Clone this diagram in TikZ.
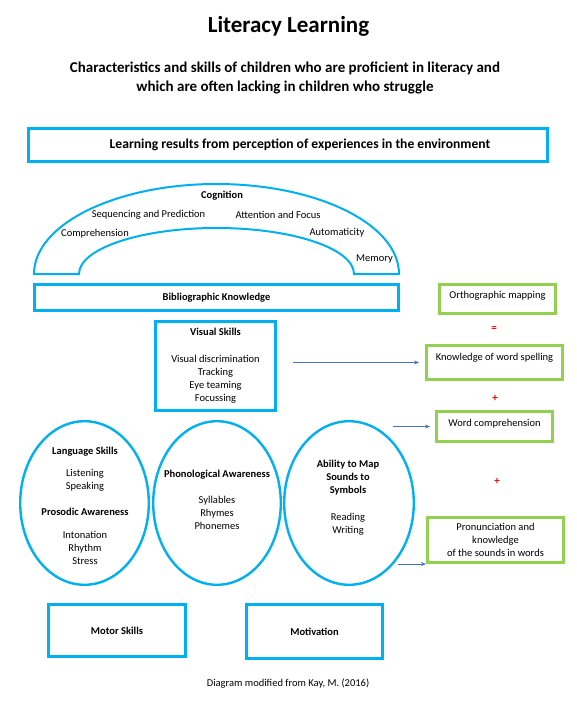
\documentclass[tikz,border=0pt]{standalone}
\usepackage{fontspec}
\setmainfont{Carlito}
\usepackage{xcolor}
\usetikzlibrary{shapes.geometric,arrows.meta,positioning,calc}

\definecolor{cyanblue}{RGB}{0,176,240}
\definecolor{leafgreen}{RGB}{146,208,80}
\definecolor{arrowblue}{RGB}{68,114,196}
\newcommand{\skillfont}{\fontsize{10.5}{13}\selectfont}

\begin{document}
\begin{tikzpicture}[
  x=1pt, y=-1pt,
  node distance=10pt,
  bluebox/.style={rectangle, draw=cyanblue, line width=2.6pt, align=center,
    font=\skillfont, inner sep=2pt},
  greenbox/.style={rectangle, draw=leafgreen, line width=2.6pt, align=center,
    font=\skillfont, inner sep=2pt},
  skillellipse/.style={shape=ellipse, draw=cyanblue, line width=2.4pt,
    minimum width=128.6pt, minimum height=163.6pt, inner sep=0pt},
  ellipsetext/.style={align=center, font=\skillfont, inner sep=0pt},
  archtext/.style={font=\skillfont, inner sep=0pt},
  arrow/.style={-{Stealth[length=5pt, width=4pt]}, draw=arrowblue, line width=0.7pt},
  opsign/.style={font=\fontsize{11}{13}\selectfont\bfseries, text=red, inner sep=0pt},
]
  \useasboundingbox (0,0) rectangle (576,712);

  % Title
  \node[font=\fontsize{23}{27}\selectfont\bfseries] (title) at (288.5,26) {Literacy Learning};
  \node[font=\fontsize{15}{19}\selectfont\bfseries, align=center] (subtitle) at (285,77.5)
    {Characteristics and skills of children who are proficient in literacy and\\
     which are often lacking in children who struggle};

  % Top box
  \node[bluebox, minimum width=519.4pt, minimum height=33.4pt,
    font=\fontsize{13.6}{16}\selectfont\bfseries] (env) at (288,145)
    {\hspace*{24pt}Learning results from perception of experiences in the environment};

  % Cognition arch
  \draw[cyanblue, line width=2pt] (34,274)
    arc[start angle=180, end angle=0, x radius=182.5pt, y radius=90pt]
    -- (354,274)
    arc[start angle=0, end angle=180, x radius=137.5pt, y radius=46pt]
    -- cycle;
  \node[archtext, font=\skillfont\bfseries] (cog) at (222,196) {Cognition};
  \node[archtext] (seq) at (148.5,215) {Sequencing and Prediction};
  \node[archtext] (att) at (278,215) {Attention and Focus};
  \node[archtext] (comp) at (95,234) {Comprehension};
  \node[archtext] (auto) at (337,233) {Automaticity};
  \node[archtext] (mem) at (374.5,259) {Memory};

  \node[bluebox, minimum width=364.4pt, minimum height=26.4pt, font=\skillfont\bfseries]
    (biblio) at (216.5,297.5) {Bibliographic Knowledge};

  % Visual skills
  \node[bluebox, minimum width=120.4pt, minimum height=89.4pt] (visual) at (215.5,366)
    {\textbf{Visual Skills}\\[14pt]
     Visual discrimination\\
     Tracking\\
     Eye teaming\\
     Focussing};

  % Ellipses
  \node[skillellipse] (lang) at (84.5,503) {};
  \node[skillellipse, minimum width=127.6pt] (phon) at (217,503) {};
  \node[skillellipse, minimum width=129.6pt] (ability) at (349,503) {};

  \node[ellipsetext] (langtext) at (85,505.5)
    {\textbf{Language Skills}\\[9pt]
     Listening\\
     Speaking\\[13pt]
     \textbf{Prosodic Awareness}\\[10pt]
     Intonation\\
     Rhythm\\
     Stress};
  \node[ellipsetext] (phontext) at (217,499.5)
    {\textbf{Phonological Awareness}\\[13pt]
     Syllables\\
     Rhymes\\
     Phonemes};
  \node[ellipsetext] (abilitytext) at (348,498)
    {\textbf{Ability to Map}\\
     \textbf{Sounds to}\\
     \textbf{Symbols}\\[14pt]
     Reading\\
     Writing};

  % Bottom boxes
  \node[bluebox, minimum width=137.4pt, minimum height=52.4pt, font=\skillfont\bfseries]
    (motor) at (117,630.5) {Motor Skills};
  \node[bluebox, minimum width=136.4pt, minimum height=54.4pt, font=\skillfont\bfseries]
    (motiv) at (314.5,631.5) {Motivation};

  % Orthographic mapping
  \node[greenbox, minimum width=116.4pt, minimum height=29.4pt,
    text height=7.5pt, text depth=8.5pt] (ortho) at (497.5,299) {Orthographic mapping};
  \node[opsign] (eq) at (494,329) {=};
  \node[greenbox, minimum width=136.4pt, minimum height=34.4pt,
    text height=7.5pt, text depth=11.5pt] (know) at (494.5,362.5) {Knowledge of word spelling};
  \node[opsign] (plus1) at (495,398) {+};
  \node[greenbox, minimum width=116.4pt, minimum height=30.4pt,
    text height=7.5pt, text depth=7.5pt] (word) at (494.5,426.5) {Word comprehension};
  \node[opsign] (plus2) at (497,481) {+};
  \node[greenbox, minimum width=136.4pt, minimum height=45.4pt]
    (pron) at (495.5,540) {Pronunciation and\\ knowledge\\ of the sounds in words};

  % Arrows
  \draw[arrow] ([xshift=16pt]visual.east |- know.west) -- ([xshift=-6pt]know.west);
  \draw[arrow] ([xshift=-22pt]ability.east |- word.west) -- ([xshift=-5pt]word.west);
  \draw[arrow] ([xshift=-17pt]ability.east |- pron.south west) -- (pron.south west);

  % Source
  \node[font=\skillfont] (credit) at (288,684) {Diagram modified from Kay, M. (2016)};
\end{tikzpicture}
\end{document}
